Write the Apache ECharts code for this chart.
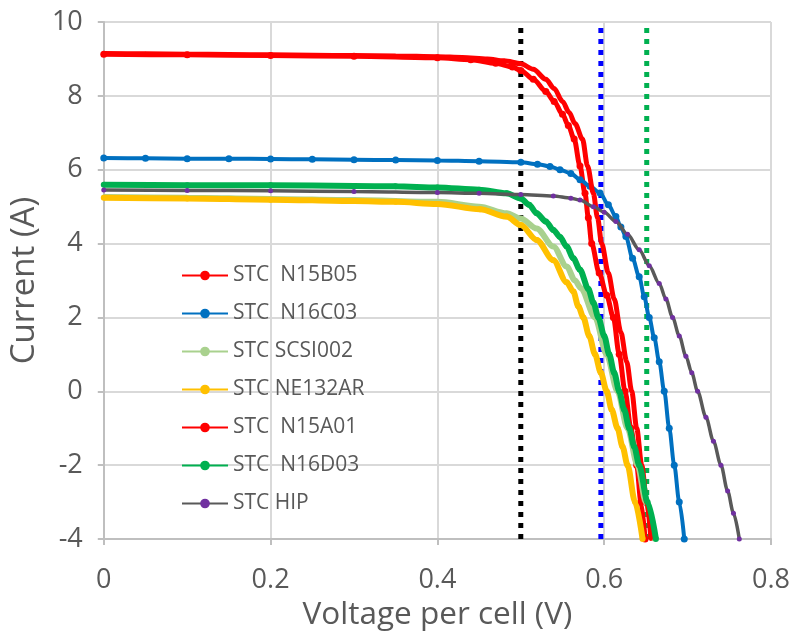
<!DOCTYPE html>
<html>
<head>
<meta charset="utf-8">
<script src="https://cdn.jsdelivr.net/npm/echarts@6/dist/echarts.min.js"></script>
<style>
  html, body { margin: 0; padding: 0; background: #fff; }
  #chart { width: 793px; height: 636px; }
</style>
</head>
<body>
<div id="chart"></div>
<script>
// I-V curves: voltage per cell (V) and current (A)
const vN15B05 = [0, 0.1, 0.2, 0.3, 0.4, 0.44, 0.47, 0.49, 0.5, 0.515, 0.53, 0.54, 0.55, 0.557, 0.564, 0.571, 0.577, 0.581, 0.585, 0.594, 0.603, 0.611, 0.618, 0.625, 0.632, 0.639, 0.644, 0.649]
const iN15B05 = [9.13, 9.11, 9.09, 9.07, 9.03, 8.98, 8.88, 8.78, 8.69, 8.45, 8.12, 7.85, 7.5, 7.2, 6.83, 6.1, 5.36, 4.7, 4.0, 3.2, 2.6, 2.0, 1.0, 0, -1.0, -2.0, -3.0, -4.0]

const vN16C03 = [0, 0.05, 0.1, 0.15, 0.2, 0.25, 0.3, 0.35, 0.4, 0.45, 0.5, 0.52, 0.535, 0.547, 0.56, 0.571, 0.583, 0.595, 0.605, 0.614, 0.62, 0.626, 0.634, 0.642, 0.648, 0.654, 0.66, 0.666, 0.672, 0.678, 0.684, 0.69, 0.696]
const iN16C03 = [6.32, 6.31, 6.3, 6.3, 6.29, 6.28, 6.27, 6.26, 6.25, 6.23, 6.2, 6.15, 6.09, 6.0, 5.9, 5.73, 5.55, 5.37, 5.05, 4.73, 4.45, 4.19, 3.6, 3.1, 2.56, 2.0, 1.45, 0.8, 0, -1.0, -2.0, -3.0, -4.0]

const vSCSI002 = [0, 0.1, 0.2, 0.3, 0.4, 0.45, 0.483, 0.5, 0.519, 0.539, 0.555, 0.565, 0.572, 0.589, 0.603, 0.616, 0.628, 0.64, 0.65, 0.66]
const iSCSI002 = [5.26, 5.24, 5.21, 5.18, 5.13, 5.0, 4.82, 4.68, 4.41, 3.92, 3.38, 3.0, 2.8, 2.0, 1.0, 0, -1.0, -2.0, -3.0, -4.0]

const vNE132AR = [0, 0.1, 0.2, 0.3, 0.35, 0.4, 0.451, 0.483, 0.5, 0.519, 0.539, 0.555, 0.563, 0.569, 0.575, 0.582, 0.589, 0.596, 0.603, 0.609, 0.616, 0.622, 0.628, 0.637, 0.646]
const iNE132AR = [5.24, 5.22, 5.19, 5.15, 5.13, 5.07, 4.93, 4.73, 4.5, 4.1, 3.55, 2.95, 2.7, 2.3, 2.0, 1.5, 1.0, 0.5, 0, -0.5, -1.0, -1.5, -2.0, -3.0, -4.0]

const vN15A01 = [0, 0.05, 0.1, 0.15, 0.2, 0.25, 0.3, 0.35, 0.4, 0.43, 0.46, 0.48, 0.5, 0.515, 0.53, 0.54, 0.55, 0.558, 0.565, 0.574, 0.58, 0.587, 0.592, 0.597, 0.605, 0.612, 0.62, 0.627, 0.633, 0.639, 0.645, 0.651, 0.656]
const iN15A01 = [9.15, 9.14, 9.13, 9.12, 9.11, 9.1, 9.09, 9.08, 9.06, 9.04, 9.0, 8.95, 8.87, 8.72, 8.45, 8.2, 7.85, 7.55, 7.25, 6.83, 6.1, 5.36, 4.7, 4.0, 3.2, 2.5, 1.6, 0.8, 0, -1.0, -2.0, -3.0, -4.0]

const vN16D03 = [0, 0.1, 0.2, 0.3, 0.35, 0.4, 0.45, 0.483, 0.5, 0.51, 0.519, 0.53, 0.539, 0.547, 0.555, 0.563, 0.571, 0.581, 0.587, 0.593, 0.6, 0.606, 0.612, 0.618, 0.624, 0.63, 0.636, 0.642, 0.652, 0.662]
const iN16D03 = [5.59, 5.58, 5.58, 5.56, 5.55, 5.52, 5.46, 5.36, 5.22, 5.05, 4.82, 4.6, 4.37, 4.18, 3.92, 3.6, 3.29, 2.77, 2.4, 2.0, 1.5, 1.0, 0.5, 0, -0.5, -1.0, -1.5, -2.0, -3.0, -4.0]

const vHIP = [0, 0.1, 0.2, 0.3, 0.4, 0.45, 0.5, 0.539, 0.56, 0.571, 0.587, 0.6, 0.614, 0.628, 0.642, 0.654, 0.666, 0.674, 0.682, 0.69, 0.698, 0.705, 0.712, 0.722, 0.731, 0.74, 0.748, 0.755, 0.762]
const iHIP = [5.45, 5.44, 5.43, 5.41, 5.38, 5.36, 5.33, 5.29, 5.23, 5.18, 5.0, 4.85, 4.6, 4.25, 3.83, 3.4, 2.92, 2.5, 2.0, 1.5, 0.95, 0.5, 0, -0.7, -1.35, -2.0, -2.7, -3.3, -4.0]

// vertical reference voltages (dotted lines)
const refVolts = [0.5, 0.596, 0.651]
const refColors = ['#000000', '#0000ff', '#00b050']

const xTicks = { min: 0, max: 0.8, interval: 0.2 }
const yTicks = { min: -4, max: 10, interval: 2 }

function pairs (xs, ys) {
  return xs.map((x, i) => [x, ys[i]])
}

const curves = [
  { name: 'STC  N15B05', v: vN15B05, i: iN15B05, line: '#ff0000', dot: '#ff0000', width: 5, size: 7 },
  { name: 'STC  N16C03', v: vN16C03, i: iN16C03, line: '#0070c0', dot: '#0070c0', width: 4, size: 7 },
  { name: 'STC SCSI002', v: vSCSI002, i: iSCSI002, line: '#a9d18e', dot: '#a9d18e', width: 6, size: 5 },
  { name: 'STC NE132AR', v: vNE132AR, i: iNE132AR, line: '#ffc000', dot: '#ffc000', width: 6, size: 6 },
  { name: 'STC  N15A01', v: vN15A01, i: iN15A01, line: '#ff0000', dot: '#ff0000', width: 5, size: 4 },
  { name: 'STC  N16D03', v: vN16D03, i: iN16D03, line: '#00b050', dot: '#00b050', width: 6, size: 6 },
  { name: 'STC HIP', v: vHIP, i: iHIP, line: '#595959', dot: '#7030a0', width: 3.5, size: 5 }
]

const font = '"Open Sans", sans-serif'

const series = refVolts.map((v, k) => ({
  name: 'ref' + k,
  type: 'line',
  data: [[v, yTicks.min], [v, yTicks.max]],
  showSymbol: false,
  silent: true,
  z: 1,
  lineStyle: { color: refColors[k], width: 5, type: [5, 6] }
}))

curves.forEach((c, k) => {
  series.push({
    name: c.name,
    type: 'line',
    data: pairs(c.v, c.i),
    smooth: 0.3,
    smoothMonotone: 'x',
    symbol: 'circle',
    symbolSize: c.size,
    z: 3 + k,
    lineStyle: { color: c.line, width: c.width },
    itemStyle: { color: c.dot }
  })
})

let chartDom = document.getElementById('chart')
let myChart = echarts.init(chartDom)
let option = {
  animation: false,
  grid: { left: 102, right: 22, top: 22, bottom: 97 },
  legend: {
    data: curves.map(c => c.name),
    orient: 'vertical',
    left: 176,
    top: 260,
    itemWidth: 46,
    itemHeight: 12,
    itemGap: 17,
    textStyle: { fontFamily: font, fontSize: 21, color: '#595959' }
  },
  xAxis: {
    type: 'value',
    min: xTicks.min,
    max: xTicks.max,
    interval: xTicks.interval,
    name: 'Voltage per cell (V)',
    nameLocation: 'middle',
    nameGap: 55,
    nameTextStyle: { fontFamily: font, fontSize: 31.5, color: '#595959' },
    axisLine: { onZero: false, lineStyle: { color: '#bfbfbf', width: 2 } },
    axisTick: { show: true, length: 6, lineStyle: { color: '#bfbfbf', width: 2 } },
    axisLabel: { fontFamily: font, fontSize: 27, color: '#595959', margin: 28 },
    splitLine: { show: true, lineStyle: { color: '#d9d9d9', width: 2 } }
  },
  yAxis: {
    type: 'value',
    min: yTicks.min,
    max: yTicks.max,
    interval: yTicks.interval,
    name: 'Current (A)',
    nameLocation: 'middle',
    nameGap: 49,
    nameTextStyle: { fontFamily: font, fontSize: 33, color: '#595959' },
    axisLine: { show: true, onZero: false, lineStyle: { color: '#bfbfbf', width: 2 } },
    axisTick: { show: true, length: 6, lineStyle: { color: '#bfbfbf', width: 2 } },
    axisLabel: { fontFamily: font, fontSize: 27, color: '#595959', margin: 21 },
    splitLine: { show: true, lineStyle: { color: '#d9d9d9', width: 2 } }
  },
  series: series
}
option && myChart.setOption(option)
</script>
</body>
</html>
